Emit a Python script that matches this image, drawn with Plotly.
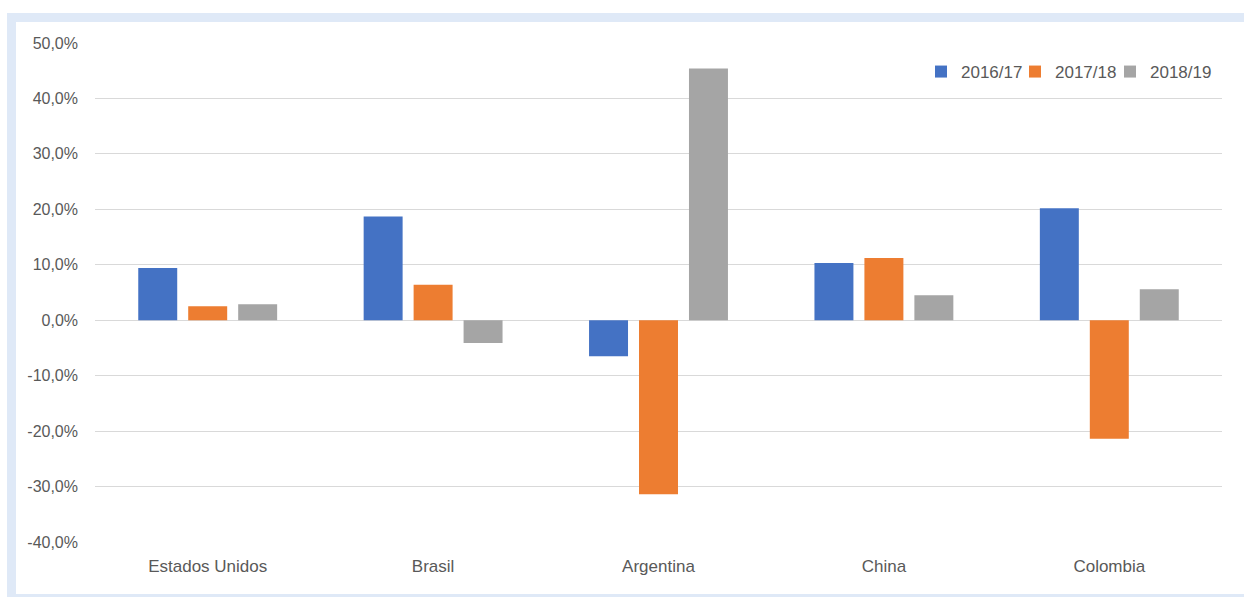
import plotly.graph_objects as go

categories = ["Estados Unidos", "Brasil", "Argentina", "China", "Colombia"]
series_names = ["2016/17", "2017/18", "2018/19"]
v_2016_17 = [9.4, 18.7, -6.5, 10.3, 20.2]
v_2017_18 = [2.5, 6.4, -31.4, 11.2, -21.4]
v_2018_19 = [2.9, -4.1, 45.4, 4.5, 5.6]
colors = ["#4472C4", "#ED7D31", "#A5A5A5"]
y_ticks = [-40, -30, -20, -10, 0, 10, 20, 30, 40, 50]
y_ticktext = [f"{v:.1f}".replace(".", ",") + "%" for v in y_ticks]

W, H = 1244, 597
L, R, T, B = 95, 22, 43, 55
pw, ph = W - L - R, H - T - B

def px_x(p):
    return (p - L) / pw

def px_y(p):
    return (H - B - p) / ph

txt = "#595959"
legend_ids = ["legend", "legend2", "legend3"]
legend_left_px = [921, 1015, 1110]

fig = go.Figure()
for name, vals, c, lg in zip(series_names, [v_2016_17, v_2017_18, v_2018_19], colors, legend_ids):
    fig.add_trace(go.Bar(x=categories, y=vals, name=name, legend=lg,
                         marker=dict(color=c, line=dict(width=0))))

legend_style = dict(
    orientation="h", xanchor="left", y=px_y(72), yanchor="middle",
    bgcolor="rgba(0,0,0,0)", font=dict(size=17, color=txt), itemwidth=30,
)

fig.update_layout(
    width=W, height=H,
    margin=dict(l=L, r=R, t=T, b=B),
    paper_bgcolor="white",
    plot_bgcolor="rgba(0,0,0,0)",
    font=dict(family="Liberation Sans, Arial, sans-serif", color=txt, size=16),
    barmode="group",
    bargap=0.335,
    bargroupgap=0.22,
    showlegend=True,
    xaxis=dict(
        showgrid=False, showline=False, zeroline=False, ticks="",
        tickfont=dict(size=17, color=txt), ticklabelstandoff=12,
    ),
    yaxis=dict(
        range=[-40, 50], tickmode="array", tickvals=y_ticks, ticktext=y_ticktext,
        showgrid=True, gridcolor="#d9d9d9", gridwidth=1,
        zeroline=True, zerolinecolor="#d9d9d9", zerolinewidth=1,
        showline=False, ticks="", tickfont=dict(size=16, color=txt),
        ticklabelstandoff=16,
    ),
    shapes=[
        dict(type="rect", xref="paper", yref="paper", layer="below",
             x0=px_x(7), x1=px_x(1260), y0=px_y(13), y1=px_y(610),
             fillcolor="#dfe9f7", line=dict(width=0)),
        dict(type="rect", xref="paper", yref="paper", layer="below",
             x0=px_x(16), x1=px_x(1260), y0=px_y(22), y1=px_y(594),
             fillcolor="white", line=dict(width=0)),
    ],
)
for lg, lx in zip(legend_ids, legend_left_px):
    fig.update_layout({lg: dict(legend_style, x=px_x(lx))})

fig.write_html("out.html")
